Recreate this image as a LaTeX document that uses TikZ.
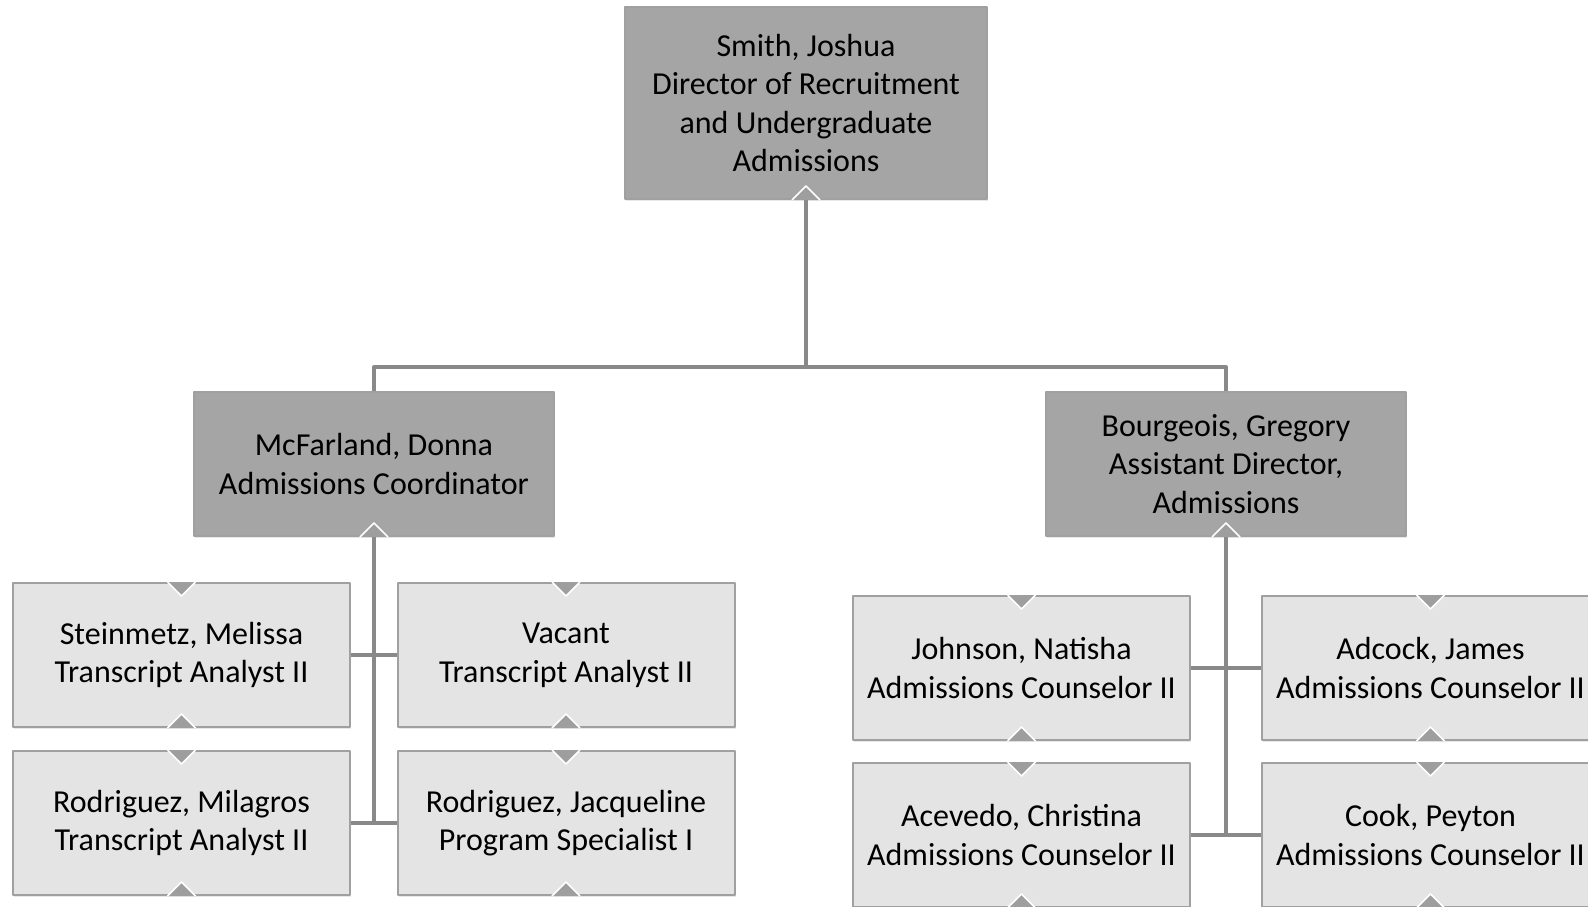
\documentclass[tikz,border=0pt]{standalone}
\usepackage{fontspec}
\setmainfont{Carlito}
\usetikzlibrary{calc,shadows}
\definecolor{bossgrey}{HTML}{A5A5A5}
\definecolor{staffgrey}{HTML}{E4E4E4}
\definecolor{edgegrey}{HTML}{A0A0A0}
\definecolor{linkgrey}{HTML}{898989}
\definecolor{notchgrey}{HTML}{9E9E9E}
\begin{document}
\begin{tikzpicture}[x=0.5pt, y=-0.5pt, font=\fontsize{16}{19.3}\selectfont, line join=round,
	orgbox/.style={draw=edgegrey, line width=1pt, align=center, inner sep=0pt,
		drop shadow={shadow xshift=0.6pt, shadow yshift=-1.2pt, opacity=0.18}},
	topbox/.style={orgbox, fill=bossgrey, minimum width=181pt, minimum height=96pt},
	mgrbox/.style={orgbox, fill=bossgrey, minimum width=180pt, minimum height=72pt},
	staffbox/.style={orgbox, fill=staffgrey, minimum width=168.5pt, minimum height=72pt},
	link/.style={draw=linkgrey, line width=2pt},
	notch/.style={fill=notchgrey, draw=white, line width=0.8pt}]
	\useasboundingbox (0,0) rectangle (1588,906);
	\clip (0,0) rectangle (1588,906);
	% director
	\node[topbox] (smith) at (806,103) {Smith, Joshua\\Director of Recruitment\\and Undergraduate\\Admissions};
	% managers
	\node[mgrbox] (mcfarland) at (374,464) {McFarland, Donna\\Admissions Coordinator};
	\node[mgrbox] (bourgeois) at (1226,464) {Bourgeois, Gregory\\Assistant Director,\\Admissions};
	% transcript team
	\node[staffbox] (steinmetz) at (181.5,655) {Steinmetz, Melissa\\Transcript Analyst II};
	\node[staffbox] (milagros) at (181.5,823) {Rodriguez, Milagros\\Transcript Analyst II};
	\node[staffbox] (vacant) at (566,655) {Vacant\\Transcript Analyst II};
	\node[staffbox] (jacqueline) at (566,823) {Rodriguez, Jacqueline\\Program Specialist I};
	% counselors
	\node[staffbox] (johnson) at (1021.5,668) {Johnson, Natisha\\Admissions Counselor II};
	\node[staffbox] (acevedo) at (1021.5,835) {Acevedo, Christina\\Admissions Counselor II};
	\node[staffbox] (adcock) at (1430.5,668) {Adcock, James\\Admissions Counselor II};
	\node[staffbox] (cook) at (1430.5,835) {Cook, Peyton\\Admissions Counselor II};
	\coordinate (bus) at (806,367);
	\draw[link] (smith.south) -- (bus);
	\draw[link] (mcfarland.north) |- (bus) -| (bourgeois.north);
	\draw[link] (mcfarland.south) -- (mcfarland.south |- milagros.east);
	\draw[link] (steinmetz.east) -- (vacant.west);
	\draw[link] (milagros.east) -- (jacqueline.west);
	\draw[link] (bourgeois.south) -- (bourgeois.south |- acevedo.east);
	\draw[link] (johnson.east) -- (adcock.west);
	\draw[link] (acevedo.east) -- (cook.west);
	% notches
	\foreach \n in {smith,mcfarland,bourgeois,steinmetz,milagros,vacant,jacqueline,johnson,acevedo,adcock,cook}
		\filldraw[notch] ($(\n.south)+(-14,0)$) -- ($(\n.south)+(0,-14)$) -- ($(\n.south)+(14,0)$);
	\foreach \n in {steinmetz,milagros,vacant,jacqueline,johnson,acevedo,adcock,cook}
		\filldraw[notch] ($(\n.north)+(-14,0)$) -- ($(\n.north)+(0,14)$) -- ($(\n.north)+(14,0)$);
\end{tikzpicture}
\end{document}
